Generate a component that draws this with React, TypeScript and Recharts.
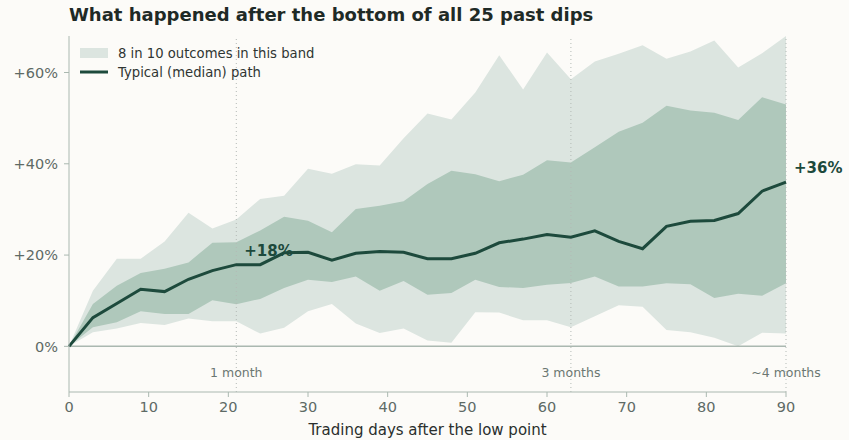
import React from 'react';
import {
  ComposedChart,
  Area,
  Line,
  XAxis,
  YAxis,
  ReferenceLine,
  LabelList,
} from 'recharts';

const days = [0, 3, 6, 9, 12, 15, 18, 21, 24, 27, 30, 33, 36, 39, 42, 45, 48, 51, 54, 57, 60, 63, 66, 69, 72, 75, 78, 81, 84, 87, 90];
const outerLow = [0, 3.1, 3.9, 5.1, 4.7, 6.1, 5.5, 5.5, 2.8, 4.1, 7.7, 9.3, 5.0, 2.9, 3.9, 1.3, 0.8, 7.5, 7.4, 5.7, 5.7, 4.2, 6.6, 9.0, 8.7, 3.6, 3.1, 1.9, 0.0, 3.0, 2.8];
const innerLow = [0, 4.2, 5.3, 7.7, 7.1, 7.1, 10.1, 9.2, 10.4, 12.8, 14.6, 14.1, 15.3, 12.2, 14.3, 11.3, 11.7, 14.6, 13.0, 12.8, 13.5, 13.9, 15.3, 13.1, 13.1, 13.8, 13.6, 10.6, 11.5, 11.1, 13.8];
const median = [0, 6.3, 9.4, 12.5, 12.0, 14.7, 16.6, 17.9, 17.9, 20.5, 20.6, 18.9, 20.4, 20.8, 20.6, 19.2, 19.2, 20.4, 22.7, 23.5, 24.5, 23.9, 25.3, 23.0, 21.4, 26.3, 27.4, 27.6, 29.1, 34.0, 36.0];
const innerHigh = [0, 9.3, 13.3, 16.1, 17.0, 18.4, 22.7, 22.8, 25.4, 28.4, 27.5, 25.0, 30.1, 30.8, 31.8, 35.6, 38.5, 37.7, 36.2, 37.6, 40.8, 40.3, 43.6, 47.0, 49.0, 52.7, 51.7, 51.2, 49.6, 54.6, 53.0];
const outerHigh = [0, 12.2, 19.2, 19.2, 23.0, 29.3, 25.8, 27.8, 32.3, 33.0, 38.9, 37.8, 39.9, 39.6, 45.6, 51.0, 49.7, 55.6, 63.8, 56.3, 64.4, 58.5, 62.4, 64.1, 66.0, 63.0, 64.6, 67.0, 61.1, 64.2, 68.0];

const xTicks = [0, 10, 20, 30, 40, 50, 60, 70, 80, 90];
const yTicks = [0, 20, 40, 60];
const markers = [
  { day: 21, label: '1 month' },
  { day: 63, label: '3 months' },
  { day: 90, label: '~4 months' },
];
const labelledDays = [21, 90];

const title = 'What happened after the bottom of all 25 past dips';
const xLabel = 'Trading days after the low point';
const legendBand = '8 in 10 outcomes in this band';
const legendLine = 'Typical (median) path';

const rows = days.map((d, i) => ({
  day: d,
  outer: [outerLow[i], outerHigh[i]],
  inner: [innerLow[i], innerHigh[i]],
  median: median[i],
}));

const FONT = 'DejaVu Sans, sans-serif';
const BG = '#fcfbf8';
const LIGHT = '#dce5e0';
const MID = '#afc8bb';
const DARK = '#1d4a3c';
const AXIS = '#aab8b0';
const TICK = '#5e6a65';

const fmtY = (v: number) => (v === 0 ? '0%' : `+${v}%`);

const MedianLabel = (props: any) => {
  const { x, y, index } = props;
  const d = days[index];
  if (!labelledDays.includes(d)) return null;
  return (
    <text
      x={x + 8}
      y={y - 9}
      fill={DARK}
      fontFamily={FONT}
      fontWeight="bold"
      fontSize={15}
      textAnchor="start"
    >
      {`+${Math.round(median[index])}%`}
    </text>
  );
};

export default function App() {
  return (
    <div
      style={{
        position: 'absolute',
        left: 0,
        top: 0,
        width: 849,
        height: 440,
        background: BG,
        fontFamily: FONT,
      }}
    >
      <ComposedChart
        width={849}
        height={440}
        data={rows}
        margin={{ top: 36, right: 63, bottom: 0, left: 0 }}
      >
        <XAxis
          type="number"
          dataKey="day"
          domain={[0, 90]}
          ticks={xTicks}
          height={48}
          tickSize={5}
          tickMargin={5}
          stroke={AXIS}
          tick={{ fill: TICK, fontSize: 14.5, fontFamily: FONT }}
          label={{
            value: xLabel,
            position: 'insideBottom',
            offset: 5,
            fill: '#2a2f2d',
            fontSize: 15,
            fontFamily: FONT,
          }}
        />
        <YAxis
          type="number"
          domain={[-10, 68]}
          allowDataOverflow
          ticks={yTicks}
          tickFormatter={fmtY}
          width={69}
          tickSize={5}
          tickMargin={6}
          stroke={AXIS}
          tick={{ fill: TICK, fontSize: 14.5, fontFamily: FONT }}
        />
        <Area
          type="linear"
          dataKey="outer"
          fill={LIGHT}
          fillOpacity={1}
          stroke="none"
          isAnimationActive={false}
        />
        <Area
          type="linear"
          dataKey="inner"
          fill={MID}
          fillOpacity={1}
          stroke="none"
          isAnimationActive={false}
        />
        <ReferenceLine y={0} stroke={AXIS} strokeWidth={1.5} />
        {markers.map((m) => (
          <ReferenceLine
            key={m.day}
            x={m.day}
            stroke="#b3bab6"
            strokeWidth={1}
            strokeDasharray="1 3"
            label={{
              value: m.label,
              position: 'insideBottom',
              offset: 15,
              fill: '#6b7772',
              fontSize: 12.5,
              fontFamily: FONT,
            }}
          />
        ))}
        <Line
          type="linear"
          dataKey="median"
          stroke={DARK}
          strokeWidth={3}
          dot={false}
          isAnimationActive={false}
        >
          <LabelList dataKey="median" content={MedianLabel} />
        </Line>
      </ComposedChart>
      <svg
        width={849}
        height={440}
        style={{ position: 'absolute', left: 0, top: 0, pointerEvents: 'none' }}
      >
        <text x={69} y={21} fill="#1f2a26" fontFamily={FONT} fontWeight="bold" fontSize={18}>
          {title}
        </text>
        <rect x={80} y={48} width={28} height={10} fill={LIGHT} />
        <text x={118} y={58} fill="#2f3532" fontFamily={FONT} fontSize={13.2}>
          {legendBand}
        </text>
        <line x1={80} y1={72} x2={108} y2={72} stroke={DARK} strokeWidth={3} />
        <text x={118} y={77} fill="#2f3532" fontFamily={FONT} fontSize={13.2}>
          {legendLine}
        </text>
      </svg>
    </div>
  );
}
